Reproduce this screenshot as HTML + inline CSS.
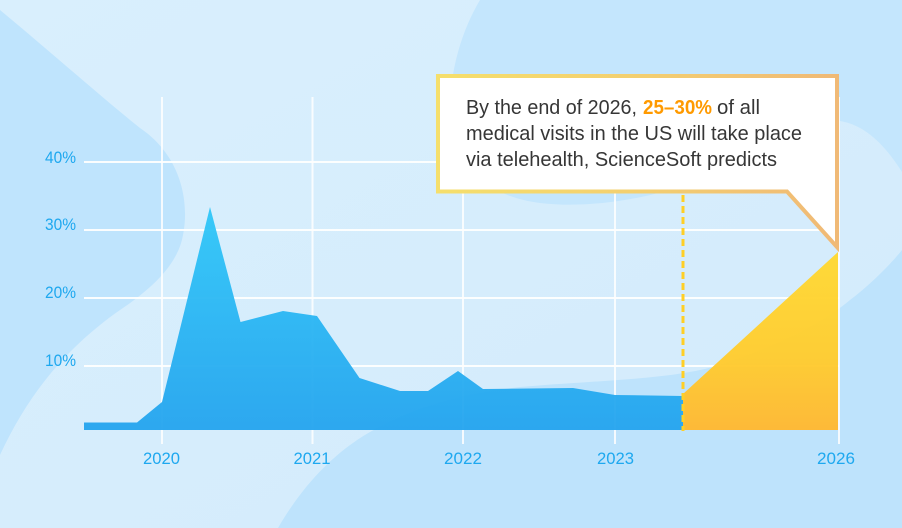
<!DOCTYPE html>
<html>
<head>
<meta charset="utf-8">
<style>
  html, body { margin: 0; padding: 0; background: #d7eefd; }
  body { width: 902px; height: 528px; overflow: hidden; }
  svg { display: block; }
  .ax { font-family: "Liberation Sans", "DejaVu Sans", sans-serif; font-size: 16.5px; fill: #1ea8ef; }
  .tx { font-family: "Liberation Sans", "DejaVu Sans", sans-serif; font-size: 20px; fill: #363636; }
  .or { font-family: "Liberation Sans", "DejaVu Sans", sans-serif; font-size: 20px; fill: #ff9a00; font-weight: bold; }
</style>
</head>
<body>
<svg width="902" height="528" viewBox="0 0 902 528" xmlns="http://www.w3.org/2000/svg">
  <defs>
    <linearGradient id="bgG" x1="0" y1="0" x2="1" y2="1">
      <stop offset="0" stop-color="#d9effd"/>
      <stop offset="1" stop-color="#d3ebfc"/>
    </linearGradient>
    <linearGradient id="blueG" x1="0" y1="207" x2="0" y2="430" gradientUnits="userSpaceOnUse">
      <stop offset="0" stop-color="#2ec7f8"/>
      <stop offset="1" stop-color="#22a3ee"/>
    </linearGradient>
    <linearGradient id="yelG" x1="0" y1="252" x2="0" y2="430" gradientUnits="userSpaceOnUse">
      <stop offset="0" stop-color="#ffd932"/>
      <stop offset="0.6" stop-color="#ffcc30"/>
      <stop offset="1" stop-color="#ffb832"/>
    </linearGradient>
    <linearGradient id="brdG" x1="436" y1="0" x2="839" y2="0" gradientUnits="userSpaceOnUse">
      <stop offset="0" stop-color="#f5df6c"/>
      <stop offset="0.5" stop-color="#f3cf70"/>
      <stop offset="1" stop-color="#f0b976"/>
    </linearGradient>
  </defs>

  <rect x="0" y="0" width="902" height="528" fill="url(#bgG)"/>

  <path d="M0,10 C60,60 105,100 140,128 C180,155 190,200 183,235 C178,265 150,290 120,310 C70,345 30,390 0,455 Z" fill="#bfe4fd"/>
  <path d="M480,0 C462,30 450,70 450,110 C450,160 480,195 540,203 C600,210 680,195 740,160 C790,132 815,118 840,121 C865,125 885,145 902,172 L902,0 Z" fill="#c4e6fd"/>
  <path d="M278,528 C300,490 330,455 370,432 C410,410 450,395 520,387 C600,380 670,380 720,365 C780,345 820,325 850,300 C870,285 890,265 902,250 L902,528 Z" fill="#bee3fc"/>

  <g stroke="#ffffff" stroke-width="2" opacity="0.95">
    <line x1="84" y1="162" x2="839" y2="162"/>
    <line x1="84" y1="230" x2="839" y2="230"/>
    <line x1="84" y1="298" x2="839" y2="298"/>
    <line x1="84" y1="366" x2="839" y2="366"/>
  </g>
  <g stroke="#ffffff" stroke-width="2" opacity="0.85">
    <line x1="162" y1="97" x2="162" y2="444"/>
    <line x1="312.5" y1="97" x2="312.5" y2="444"/>
    <line x1="463" y1="97" x2="463" y2="444"/>
    <line x1="615" y1="97" x2="615" y2="444"/>
    <line x1="839" y1="97" x2="839" y2="444"/>
  </g>

  <path d="M84,430 L84,422.5 L137,422.5 L162,402 L210,207 L240.5,322 L283,311 L317,316 L359.5,378 L400,391 L428,391 L458,371 L483,389 L573,388 L615,395 L683,396 L683,430 Z" fill="url(#blueG)" opacity="0.94"/>

  <path d="M683,430 L683,394 L838,252 L838,430 Z" fill="url(#yelG)" opacity="0.97"/>

  <line x1="683" y1="195" x2="683" y2="431" stroke="#ffcf26" stroke-width="3" stroke-dasharray="7 4"/>

  <path d="M438,76 L837,76 L837,247 L787,191.5 L438,191.5 Z" fill="#ffffff" stroke="url(#brdG)" stroke-width="4" stroke-linejoin="miter"/>

  <text class="tx" x="466" y="114" textLength="171" lengthAdjust="spacingAndGlyphs">By the end of 2026,</text>
  <text class="or" x="643" y="114" textLength="69" lengthAdjust="spacingAndGlyphs">25–30%</text>
  <text class="tx" x="717" y="114" textLength="43" lengthAdjust="spacingAndGlyphs">of all</text>
  <text class="tx" x="466" y="140" textLength="336" lengthAdjust="spacingAndGlyphs">medical visits in the US will take place</text>
  <text class="tx" x="466" y="166" textLength="311" lengthAdjust="spacingAndGlyphs">via telehealth, ScienceSoft predicts</text>

  <text class="ax" x="45" y="163" textLength="31" lengthAdjust="spacingAndGlyphs">40%</text>
  <text class="ax" x="45" y="230" textLength="31" lengthAdjust="spacingAndGlyphs">30%</text>
  <text class="ax" x="45" y="298" textLength="31" lengthAdjust="spacingAndGlyphs">20%</text>
  <text class="ax" x="45" y="366" textLength="31" lengthAdjust="spacingAndGlyphs">10%</text>

  <text class="ax" x="143" y="464" textLength="37" lengthAdjust="spacingAndGlyphs">2020</text>
  <text class="ax" x="293.5" y="464" textLength="37" lengthAdjust="spacingAndGlyphs">2021</text>
  <text class="ax" x="444" y="464" textLength="38" lengthAdjust="spacingAndGlyphs">2022</text>
  <text class="ax" x="597" y="464" textLength="37" lengthAdjust="spacingAndGlyphs">2023</text>
  <text class="ax" x="817" y="464" textLength="38" lengthAdjust="spacingAndGlyphs">2026</text>
</svg>
</body>
</html>
